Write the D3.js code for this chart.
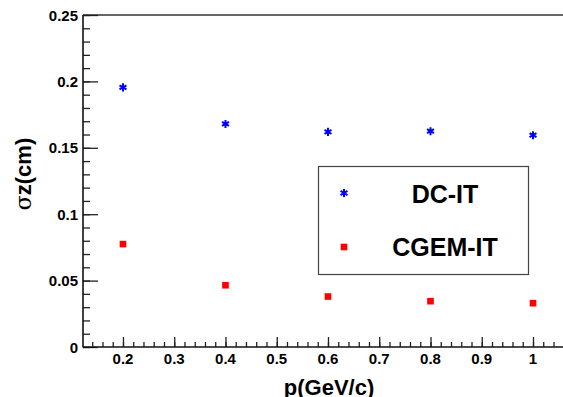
<!DOCTYPE html>
<meta charset="utf-8">
<script src="https://d3js.org/d3.v7.min.js"></script>
<style>
  body { margin: 0; background: #fff; }
  text { font-family: "Liberation Sans", Arial, sans-serif; }
</style>
<div id="chart"></div>
<script>

// data
var momentum = [0.2, 0.4, 0.6, 0.8, 1.0];
var dcIT     = [0.1955, 0.168, 0.162, 0.1625, 0.1595];
var cgemIT   = [0.0775, 0.0465, 0.038, 0.0345, 0.033];
var seriesNames = ["DC-IT", "CGEM-IT"];
var xTicks = [0.2, 0.3, 0.4, 0.5, 0.6, 0.7, 0.8, 0.9, 1];
var xTickLabels = ["0.2", "0.3", "0.4", "0.5", "0.6", "0.7", "0.8", "0.9", "1"];
var yTicks = [0, 0.05, 0.1, 0.15, 0.2, 0.25];
var yTickLabels = ["0", "0.05", "0.1", "0.15", "0.2", "0.25"];

var W = 563, H = 397;
var padL = 83, padT = 15, padB = 347, padR = 574;

var svg = d3.select("#chart").append("svg")
    .attr("width", W)
    .attr("height", H);

var x = d3.scaleLinear().domain([0.122, 1.08]).range([padL, padR]);
var y = d3.scaleLinear().domain([0, 0.25]).range([padB, padT]);

// frame top
svg.append("line")
  .attr("x1", padL).attr("x2", padR)
  .attr("y1", padT).attr("y2", padT)
  .attr("stroke", "#333").attr("stroke-width", 1.5);

// Y axis, ticks pointing inside
var yMinor = d3.range(0, 0.2501, 0.01);
svg.append("g")
  .attr("transform", "translate(" + padL + ",0)")
  .call(d3.axisRight(y).tickValues(yMinor).tickSize(7).tickFormat(""))
  .call(function(g) { g.select(".domain").remove(); })
  .selectAll("line").attr("stroke", "#222").attr("stroke-width", 1.3);
svg.append("g")
  .attr("transform", "translate(" + padL + ",0)")
  .call(d3.axisRight(y).tickValues(yTicks).tickSize(15).tickFormat(""))
  .call(function(g) { g.select(".domain").remove(); })
  .selectAll("line").attr("stroke", "#222").attr("stroke-width", 1.3);
svg.append("line")
  .attr("x1", padL).attr("x2", padL)
  .attr("y1", padT).attr("y2", padB + 0.5)
  .attr("stroke", "#111").attr("stroke-width", 1.6);

// X axis, ticks pointing up
var xMinor = d3.range(0.14, 1.0801, 0.02);
svg.append("g")
  .attr("transform", "translate(0," + padB + ")")
  .call(d3.axisTop(x).tickValues(xMinor).tickSize(5).tickFormat(""))
  .call(function(g) { g.select(".domain").remove(); })
  .selectAll("line").attr("stroke", "#222").attr("stroke-width", 1.3);
svg.append("g")
  .attr("transform", "translate(0," + padB + ")")
  .call(d3.axisTop(x).tickValues(xTicks).tickSize(10).tickFormat(""))
  .call(function(g) { g.select(".domain").remove(); })
  .selectAll("line").attr("stroke", "#222").attr("stroke-width", 1.3);
svg.append("line")
  .attr("x1", padL).attr("x2", padR)
  .attr("y1", padB).attr("y2", padB)
  .attr("stroke", "#111").attr("stroke-width", 1.6);

// tick labels
svg.selectAll(".ylab")
  .data(yTicks)
  .enter().append("text")
    .attr("x", padL - 5)
    .attr("y", function(d) { return y(d) + 5.5; })
    .attr("text-anchor", "end")
    .style("font-size", "15px").style("font-weight", "bold")
    .text(function(d, i) { return yTickLabels[i]; });

svg.selectAll(".xlab")
  .data(xTicks)
  .enter().append("text")
    .attr("x", function(d) { return x(d); })
    .attr("y", 364)
    .attr("text-anchor", "middle")
    .style("font-size", "15px").style("font-weight", "bold")
    .text(function(d, i) { return xTickLabels[i]; });

// axis titles
svg.append("text")
  .attr("x", 329).attr("y", 395)
  .attr("text-anchor", "middle")
  .style("font-size", "22px").style("font-weight", "bold")
  .text("p(GeV/c)");

var yt = svg.append("text")
  .attr("transform", "translate(31,174) rotate(-90)")
  .attr("text-anchor", "middle")
  .style("font-size", "22px").style("font-weight", "bold");
yt.append("tspan").style("font-weight", "normal").style("font-family", "DejaVu Serif").text("σ");
yt.append("tspan").text("z(cm)");

// markers
var star = d3.symbol().type(d3.symbolAsterisk).size(45);
var square = d3.symbol().type(d3.symbolSquare).size(44);

svg.selectAll(".dc")
  .data(momentum)
  .enter().append("path")
    .attr("d", star)
    .attr("transform", function(d, i) { return "translate(" + x(d) + "," + y(dcIT[i]) + ")"; })
    .attr("fill", "none").attr("stroke", "#0000ff").attr("stroke-width", 2);

svg.selectAll(".cgem")
  .data(momentum)
  .enter().append("path")
    .attr("d", square)
    .attr("transform", function(d, i) { return "translate(" + x(d) + "," + y(cgemIT[i]) + ")"; })
    .attr("fill", "#ff0000");

// legend
svg.append("rect")
  .attr("x", 318.5).attr("y", 166.5)
  .attr("width", 210).attr("height", 108)
  .attr("fill", "white").attr("stroke", "#444").attr("stroke-width", 1.2);

svg.append("path")
  .attr("d", star)
  .attr("transform", "translate(344,193)")
  .attr("fill", "none").attr("stroke", "#0000ff").attr("stroke-width", 2);
svg.append("path")
  .attr("d", square)
  .attr("transform", "translate(344,247)")
  .attr("fill", "#ff0000");

svg.append("text")
  .attr("x", 445).attr("y", 203)
  .attr("text-anchor", "middle")
  .style("font-size", "25px").style("font-weight", "bold")
  .text(seriesNames[0]);
svg.append("text")
  .attr("x", 445).attr("y", 256)
  .attr("text-anchor", "middle")
  .style("font-size", "25px").style("font-weight", "bold")
  .text(seriesNames[1]);

</script>
